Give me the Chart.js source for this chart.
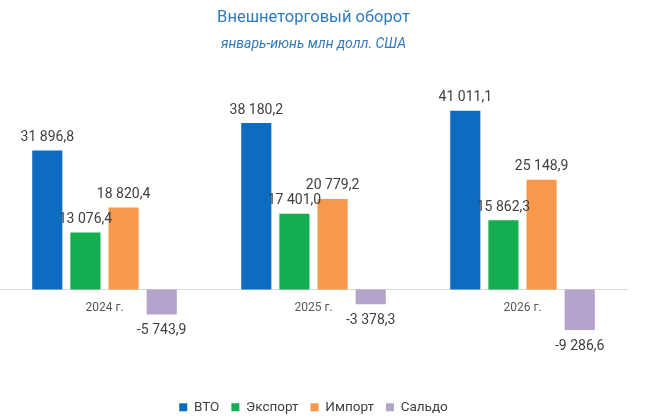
<!DOCTYPE html>
<html lang="ru">
<head>
<meta charset="utf-8">
<title>Внешнеторговый оборот</title>
<script src="https://cdn.jsdelivr.net/npm/chart.js@4.4.1/dist/chart.umd.min.js"></script>
<style>
    html, body { margin: 0; padding: 0; background: #ffffff; }
    #wrap { width: 660px; height: 418px; position: relative; }
</style>
</head>
<body>
<div id="wrap"><canvas id="tradeChart"></canvas></div>
<script>
// Data (mln USD, Jan-Jun)
const years = ['2024 г.', '2025 г.', '2026 г.'];
const vto = [31896.8, 38180.2, 41011.1];
const exportVals = [13076.4, 17401.0, 15862.3];
const importVals = [18820.4, 20779.2, 25148.9];
const saldo = [-5743.9, -3378.3, -9286.6];

// 31 896,8 style
function fmt(v) {
    const neg = v < 0;
    const parts = Math.abs(v).toFixed(1).split('.');
    const intPart = parts[0].replace(/\B(?=(\d{3})+(?!\d))/g, ' ');
    return (neg ? '-' : '') + intPart + ',' + parts[1];
}

// value labels over / under the bars
const barLabels = {
    id: 'barLabels',
    afterDatasetsDraw(chart) {
        const ctx = chart.ctx;
        ctx.save();
        ctx.font = '14px Roboto';
        ctx.fillStyle = '#404040';
        ctx.textAlign = 'center';
        chart.data.datasets.forEach((ds, i) => {
            const meta = chart.getDatasetMeta(i);
            if (meta.hidden) return;
            meta.data.forEach((bar, j) => {
                const v = ds.data[j];
                if (v >= 0) {
                    ctx.textBaseline = 'bottom';
                    ctx.fillText(fmt(v), bar.x, bar.y - 6);
                } else {
                    ctx.textBaseline = 'top';
                    ctx.fillText(fmt(v), bar.x, bar.y + 9);
                }
            });
        });
        ctx.restore();
    }
};

document.addEventListener('DOMContentLoaded', function() {
    const canvas = document.getElementById('tradeChart');
    new Chart(canvas, {
        type: 'bar',
        data: {
            labels: years,
            datasets: [
                { label: 'ВТО', data: vto, backgroundColor: '#0e6cc0' },
                { label: 'Экспорт', data: exportVals, backgroundColor: '#14ad50' },
                { label: 'Импорт', data: importVals, backgroundColor: '#f7994a' },
                { label: 'Сальдо', data: saldo, backgroundColor: '#b4a3cb' }
            ]
        },
        options: {
            responsive: true,
            maintainAspectRatio: false,
            animation: false,
            datasets: {
                bar: { barPercentage: 0.79, categoryPercentage: 0.73 }
            },
            layout: {
                padding: { left: 0, right: 33, top: 0, bottom: -6 }
            },
            plugins: {
                title: {
                    display: true,
                    text: 'Внешнеторговый оборот',
                    color: '#2e7bbf',
                    fullSize: false,
                    font: { family: 'Roboto', size: 16.5, weight: 'normal' },
                    padding: { top: 8, bottom: 4 }
                },
                subtitle: {
                    display: true,
                    text: 'январь-июнь млн долл. США',
                    color: '#2e7bbf',
                    fullSize: false,
                    font: { family: 'Roboto', size: 14, style: 'italic' },
                    padding: { top: 4, bottom: 8 }
                },
                legend: {
                    position: 'bottom',
                    fullSize: false,
                    labels: {
                        boxWidth: 8,
                        boxHeight: 8,
                        color: '#404040',
                        font: { family: 'Roboto', size: 13.5 },
                        padding: 12
                    }
                },
                tooltip: { enabled: false }
            },
            scales: {
                x: {
                    position: { y: 0 },
                    grid: { display: false, drawTicks: false },
                    border: { display: true, color: '#d9d9d9', width: 1 },
                    ticks: {
                        color: '#595959',
                        font: { family: 'Roboto', size: 12 },
                        padding: 11
                    }
                },
                y: {
                    display: false,
                    min: -22700,
                    max: 52500
                }
            }
        },
        plugins: [barLabels]
    });
});
</script>
</body>
</html>
